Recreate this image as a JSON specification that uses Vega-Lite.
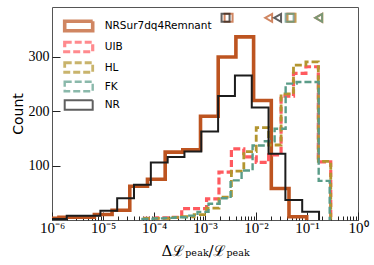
{
  "$schema": "https://vega.github.io/schema/vega-lite/v6.json",
  "width": 306,
  "height": 213,
  "autosize": {"type": "none"},
  "padding": {"left": 52, "top": 7, "right": 16, "bottom": 45},
  "background": "white",
  "config": {
    "view": {"stroke": "#555555", "strokeWidth": 1},
    "axis": {"grid": false, "domain": false, "tickColor": "#222222", "tickWidth": 1, "labelFont": "Liberation Serif", "labelFontSize": 14, "labelColor": "#000000", "titleColor": "#000000", "titleFontWeight": "normal"},
    "legend": {"orient": "none", "legendX": 17.7, "legendY": 10, "padding": 0, "title": null, "labelFont": "DejaVu Sans", "labelFontSize": 10.5, "labelColor": "#000000", "symbolType": "M-2,-0.68H2V0.68H-2Z", "symbolSize": 196, "labelOffset": 17, "rowPadding": -3, "symbolFillColor": "transparent"}
  },
  "datasets": {
    "hist": [
      {"s": "NRSur7dq4Remnant", "i": 0, "x": 6.17e-7, "c": 0},
      {"s": "NRSur7dq4Remnant", "i": 1, "x": 6.17e-7, "c": 3},
      {"s": "NRSur7dq4Remnant", "i": 2, "x": 1.371e-6, "c": 5},
      {"s": "NRSur7dq4Remnant", "i": 3, "x": 3.048e-6, "c": 5},
      {"s": "NRSur7dq4Remnant", "i": 4, "x": 6.776e-6, "c": 10},
      {"s": "NRSur7dq4Remnant", "i": 5, "x": 1.507e-5, "c": 18},
      {"s": "NRSur7dq4Remnant", "i": 6, "x": 3.350e-5, "c": 62},
      {"s": "NRSur7dq4Remnant", "i": 7, "x": 7.447e-5, "c": 75},
      {"s": "NRSur7dq4Remnant", "i": 8, "x": 1.656e-4, "c": 125},
      {"s": "NRSur7dq4Remnant", "i": 9, "x": 3.673e-4, "c": 129},
      {"s": "NRSur7dq4Remnant", "i": 10, "x": 8.166e-4, "c": 191},
      {"s": "NRSur7dq4Remnant", "i": 11, "x": 1.816e-3, "c": 300},
      {"s": "NRSur7dq4Remnant", "i": 12, "x": 4.036e-3, "c": 337},
      {"s": "NRSur7dq4Remnant", "i": 13, "x": 8.974e-3, "c": 220},
      {"s": "NRSur7dq4Remnant", "i": 14, "x": 1.995e-2, "c": 58},
      {"s": "NRSur7dq4Remnant", "i": 15, "x": 4.436e-2, "c": 6},
      {"s": "NRSur7dq4Remnant", "i": 16, "x": 9.863e-2, "c": 0},

      {"s": "UIB", "i": 0, "x": 6.501e-5, "c": 0},
      {"s": "UIB", "i": 1, "x": 6.501e-5, "c": 3},
      {"s": "UIB", "i": 2, "x": 1.139e-4, "c": 4},
      {"s": "UIB", "i": 3, "x": 1.995e-4, "c": 5},
      {"s": "UIB", "i": 4, "x": 3.496e-4, "c": 21},
      {"s": "UIB", "i": 5, "x": 6.124e-4, "c": 21},
      {"s": "UIB", "i": 6, "x": 1.073e-3, "c": 39},
      {"s": "UIB", "i": 7, "x": 1.879e-3, "c": 88},
      {"s": "UIB", "i": 8, "x": 3.292e-3, "c": 131},
      {"s": "UIB", "i": 9, "x": 5.768e-3, "c": 116},
      {"s": "UIB", "i": 10, "x": 1.010e-2, "c": 106},
      {"s": "UIB", "i": 11, "x": 1.770e-2, "c": 120},
      {"s": "UIB", "i": 12, "x": 3.101e-2, "c": 228},
      {"s": "UIB", "i": 13, "x": 5.433e-2, "c": 270},
      {"s": "UIB", "i": 14, "x": 9.517e-2, "c": 282},
      {"s": "UIB", "i": 15, "x": 1.667e-1, "c": 107},
      {"s": "UIB", "i": 16, "x": 2.921e-1, "c": 0},

      {"s": "HL", "i": 0, "x": 6.501e-5, "c": 0},
      {"s": "HL", "i": 1, "x": 6.501e-5, "c": 3},
      {"s": "HL", "i": 2, "x": 1.139e-4, "c": 3},
      {"s": "HL", "i": 3, "x": 1.995e-4, "c": 5},
      {"s": "HL", "i": 4, "x": 3.496e-4, "c": 6},
      {"s": "HL", "i": 5, "x": 6.124e-4, "c": 10},
      {"s": "HL", "i": 6, "x": 1.073e-3, "c": 22},
      {"s": "HL", "i": 7, "x": 1.879e-3, "c": 42},
      {"s": "HL", "i": 8, "x": 3.292e-3, "c": 90},
      {"s": "HL", "i": 9, "x": 5.768e-3, "c": 126},
      {"s": "HL", "i": 10, "x": 1.010e-2, "c": 170},
      {"s": "HL", "i": 11, "x": 1.770e-2, "c": 138},
      {"s": "HL", "i": 12, "x": 3.101e-2, "c": 232},
      {"s": "HL", "i": 13, "x": 5.433e-2, "c": 285},
      {"s": "HL", "i": 14, "x": 9.517e-2, "c": 291},
      {"s": "HL", "i": 15, "x": 1.667e-1, "c": 108},
      {"s": "HL", "i": 16, "x": 2.921e-1, "c": 0},

      {"s": "FK", "i": 0, "x": 5.938e-5, "c": 0},
      {"s": "FK", "i": 1, "x": 5.938e-5, "c": 2},
      {"s": "FK", "i": 2, "x": 9.761e-5, "c": 3},
      {"s": "FK", "i": 3, "x": 1.605e-4, "c": 4},
      {"s": "FK", "i": 4, "x": 2.639e-4, "c": 5},
      {"s": "FK", "i": 5, "x": 4.339e-4, "c": 8},
      {"s": "FK", "i": 6, "x": 7.135e-4, "c": 15},
      {"s": "FK", "i": 7, "x": 1.173e-3, "c": 30},
      {"s": "FK", "i": 8, "x": 1.929e-3, "c": 40},
      {"s": "FK", "i": 9, "x": 3.172e-3, "c": 73},
      {"s": "FK", "i": 10, "x": 5.215e-3, "c": 91},
      {"s": "FK", "i": 11, "x": 8.574e-3, "c": 137},
      {"s": "FK", "i": 12, "x": 1.410e-2, "c": 145},
      {"s": "FK", "i": 13, "x": 2.318e-2, "c": 168},
      {"s": "FK", "i": 14, "x": 3.813e-2, "c": 251},
      {"s": "FK", "i": 15, "x": 6.268e-2, "c": 254},
      {"s": "FK", "i": 16, "x": 1.031e-1, "c": 254},
      {"s": "FK", "i": 17, "x": 1.695e-1, "c": 72},
      {"s": "FK", "i": 18, "x": 2.786e-1, "c": 0},

      {"s": "NR", "i": 0, "x": 9.099e-7, "c": 0},
      {"s": "NR", "i": 1, "x": 9.099e-7, "c": 2},
      {"s": "NR", "i": 2, "x": 1.945e-6, "c": 8},
      {"s": "NR", "i": 3, "x": 4.159e-6, "c": 8},
      {"s": "NR", "i": 4, "x": 8.892e-6, "c": 17},
      {"s": "NR", "i": 5, "x": 1.897e-5, "c": 40},
      {"s": "NR", "i": 6, "x": 4.055e-5, "c": 65},
      {"s": "NR", "i": 7, "x": 8.670e-5, "c": 106},
      {"s": "NR", "i": 8, "x": 1.853e-4, "c": 116},
      {"s": "NR", "i": 9, "x": 3.954e-4, "c": 126},
      {"s": "NR", "i": 10, "x": 8.453e-4, "c": 163},
      {"s": "NR", "i": 11, "x": 1.807e-3, "c": 228},
      {"s": "NR", "i": 12, "x": 3.864e-3, "c": 266},
      {"s": "NR", "i": 13, "x": 8.260e-3, "c": 207},
      {"s": "NR", "i": 14, "x": 1.762e-2, "c": 122},
      {"s": "NR", "i": 15, "x": 3.767e-2, "c": 37},
      {"s": "NR", "i": 16, "x": 8.054e-2, "c": 15},
      {"s": "NR", "i": 17, "x": 1.722e-1, "c": 0}
    ],
    "marks": [
      {"s": "NRSur7dq4Remnant", "stat": "median", "x": 0.0029},
      {"s": "NRSur7dq4Remnant", "stat": "mean", "x": 0.0177},
      {"s": "UIB", "stat": "median", "x": 0.048},
      {"s": "UIB", "stat": "mean", "x": 0.169},
      {"s": "HL", "stat": "median", "x": 0.050},
      {"s": "HL", "stat": "mean", "x": 0.171},
      {"s": "FK", "stat": "median", "x": 0.0456},
      {"s": "FK", "stat": "mean", "x": 0.169},
      {"s": "NR", "stat": "median", "x": 0.00253},
      {"s": "NR", "stat": "mean", "x": 0.0265}
    ]
  },
  "layer": [
    {
      "data": {"name": "hist"},
      "mark": {"type": "line", "interpolate": "step-after", "clip": true, "strokeJoin": "miter", "strokeCap": "butt"},
      "encoding": {
        "x": {
          "field": "x", "type": "quantitative",
          "scale": {"type": "log", "domain": [1e-6, 1], "nice": false},
          "title": "Δℒₚₑₐₖ/ℒₚₑₐₖ",
          "axis": {
            "values": [1e-6, 2e-6, 3e-6, 4e-6, 5e-6, 6e-6, 7e-6, 8e-6, 9e-6, 1e-5, 2e-5, 3e-5, 4e-5, 5e-5, 6e-5, 7e-5, 8e-5, 9e-5, 1e-4, 2e-4, 3e-4, 4e-4, 5e-4, 6e-4, 7e-4, 8e-4, 9e-4, 1e-3, 2e-3, 3e-3, 4e-3, 5e-3, 6e-3, 7e-3, 8e-3, 9e-3, 0.01, 0.02, 0.03, 0.04, 0.05, 0.06, 0.07, 0.08, 0.09, 0.1, 0.2, 0.3, 0.4, 0.5, 0.6, 0.7, 0.8, 0.9, 1],
            "labelExpr": "(abs(log(datum.value)/LN10 - round(log(datum.value)/LN10)) < 0.001) ? (datum.value >= 0.999 ? '10⁰' : '10⁻' + ['⁰','¹','²','³','⁴','⁵','⁶'][round(-log(datum.value)/LN10)]) : ''",
            "labelFlush": false, "labelOverlap": false, "labelBound": false,
            "labelFontSize": 15,
            "tickSize": {"condition": {"test": "abs(log(datum.value)/LN10 - round(log(datum.value)/LN10)) < 0.001", "value": -8}, "value": -4},
            "labelPadding": 8,
            "titleFont": "DejaVu Serif", "titleFontSize": 15, "titlePadding": 4
          }
        },
        "y": {
          "field": "c", "type": "quantitative",
          "scale": {"domain": [0, 392], "nice": false},
          "title": "Count",
          "axis": {"values": [100, 200, 300], "tickSize": -8, "labelPadding": 11, "titleFont": "DejaVu Sans", "titleFontSize": 14, "titlePadding": 3}
        },
        "color": {
          "field": "s", "type": "nominal",
          "scale": {"domain": ["NRSur7dq4Remnant", "UIB", "HL", "FK", "NR"], "range": ["#bd5420", "#ff5a5f", "#b3952f", "#5a9c88", "#1c1c1c"]}
        },
        "strokeDash": {
          "field": "s", "type": "nominal",
          "scale": {"domain": ["NRSur7dq4Remnant", "UIB", "HL", "FK", "NR"], "range": [[1, 0], [7, 3], [7, 3], [7, 3], [1, 0]]}
        },
        "strokeWidth": {
          "field": "s", "type": "ordinal",
          "scale": {"domain": ["NRSur7dq4Remnant", "UIB", "HL", "FK", "NR"], "range": [3.6, 2, 2, 2, 2]}
        },
        "order": {"field": "i"}
      }
    },
    {
      "data": {"name": "marks"},
      "mark": {"type": "point", "filled": false, "size": 64, "strokeWidth": 2},
      "encoding": {
        "x": {"field": "x", "type": "quantitative"},
        "y": {"datum": 372},
        "color": {"field": "s", "type": "nominal"},
        "shape": {"field": "stat", "type": "nominal", "scale": {"domain": ["median", "mean"], "range": ["square", "triangle-left"]}, "legend": null}
      }
    }
  ]
}
